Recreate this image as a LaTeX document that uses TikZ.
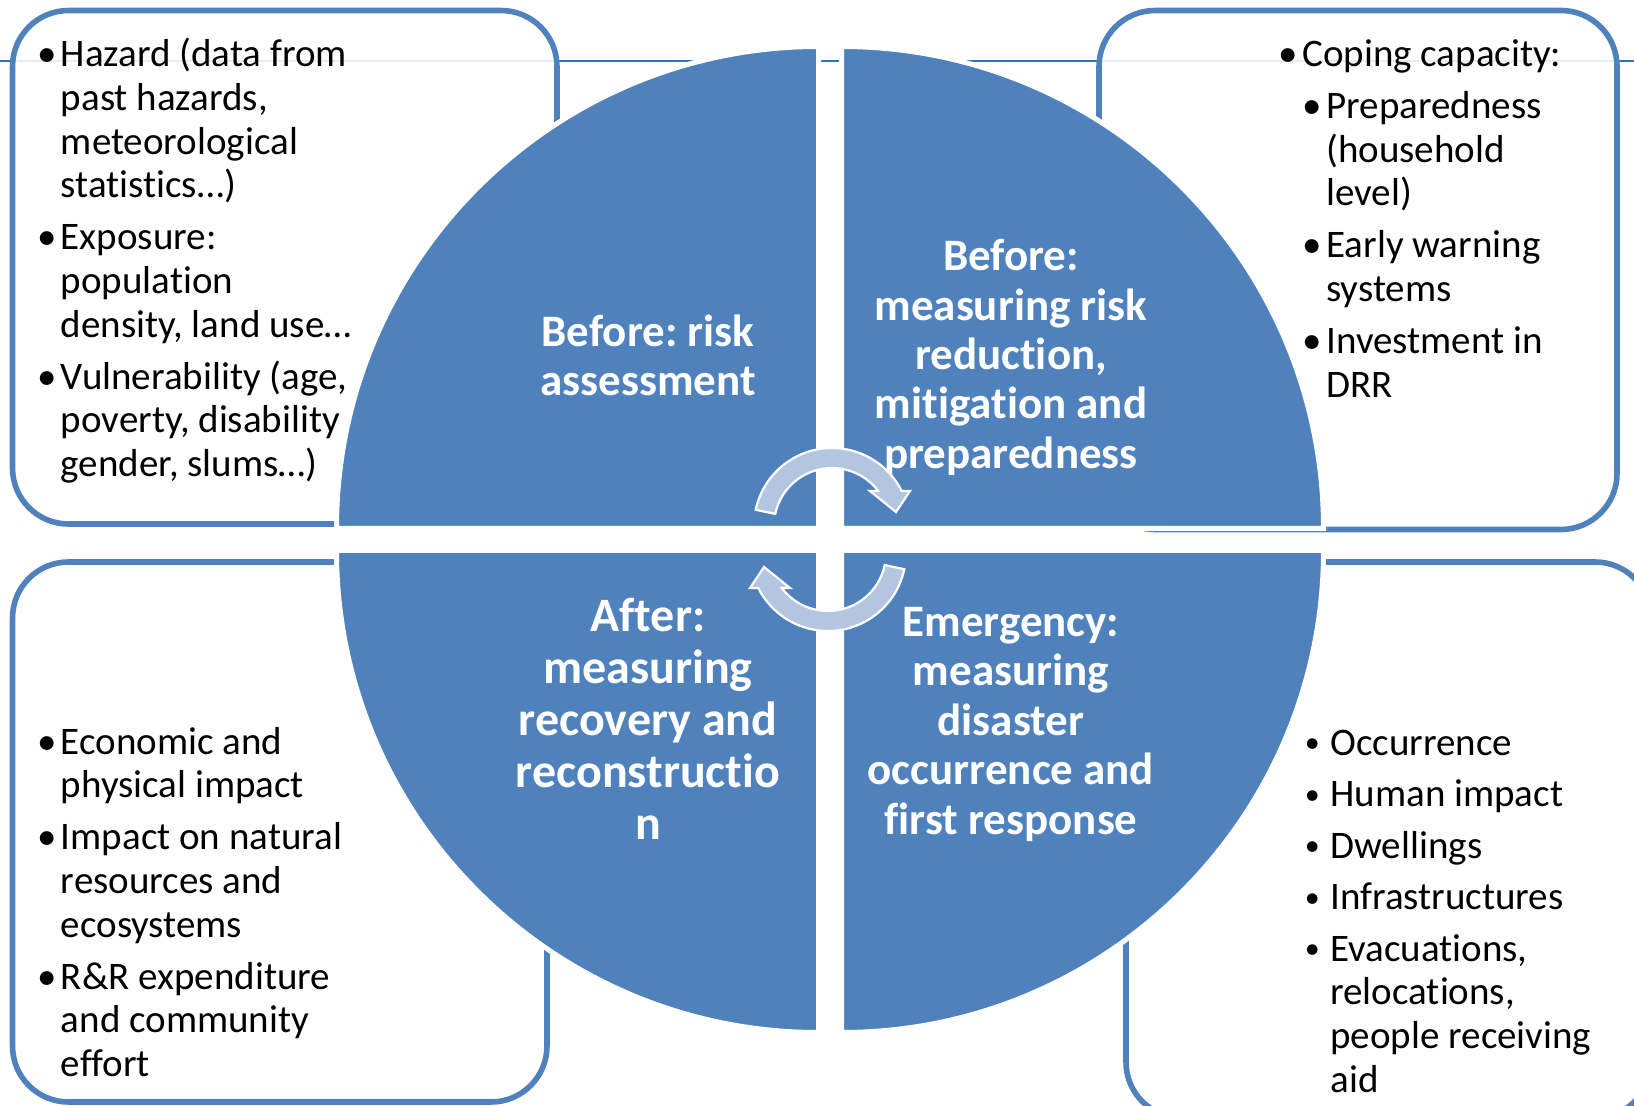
\documentclass[tikz,border=0pt]{standalone}
\usepackage{fontspec}
\setmainfont{Carlito}[Ligatures={NoCommon,NoRare,NoContextual}, Contextuals=NoAlternate]
\frenchspacing
\definecolor{quadblue}{HTML}{4F81BD}
\definecolor{rulerblue}{HTML}{2F74C0}
\definecolor{arrowfill}{HTML}{B4C5E1}
\newcommand{\listfont}{\fontsize{19.5}{21.9}\selectfont}
\newcommand{\quadfont}{\fontsize{22.5}{24.7}\selectfont\bfseries}
\newcommand{\quadfontbig}{\fontsize{24}{26}\selectfont\bfseries}
% plain "t" + "i" without the font's ligature
\newcommand{\ti}{t\kern0pt i}
% bullet hanging to the left of the line start
\newcommand{\itm}{\strut\llap{\makebox[8pt][c]{•}\hspace{3pt}}}
\newcommand{\itmw}{\strut\llap{\makebox[8pt][c]{\raisebox{1.3pt}{\fontsize{15}{15}\selectfont•}}\hspace{5pt}}}
\begin{document}
\begin{tikzpicture}[x=0.5pt,y=-0.5pt,
  infobox/.style={draw=quadblue, line width=2.8pt, fill=white, fill opacity=0.88,
                  draw opacity=1, rounded corners=28pt},
  quadrant/.style={fill=quadblue, draw=white, line width=2.5pt},
  listtext/.style={anchor=north west, align=left, inner sep=0pt, font=\listfont, text=black},
  quadtext/.style={anchor=center, align=center, inner sep=0pt, text=white, font=\quadfont},
  cyclearrow/.style={fill=arrowfill, draw=white, line width=1.1pt, line join=miter}
]
\useasboundingbox (0,0) rectangle (1634,1106);
\clip (0,0) rectangle (1634,1106);

% thin rule across the top
\draw[rulerblue, line width=1pt] (0,61) -- (1634,61);

% rounded boxes around the four lists
\path[infobox] (12.5,10.5) rectangle (557,524);
\path[infobox] (1099,10.5) rectangle (1617,529.5);
\path[infobox] (12.5,562) rectangle (547,1102);
\path[infobox] (1126,562) rectangle (1651,1118);

% list texts
\node[listtext] (risklist) at (60.5,35.5) {%
\itm Hazard (data from\\ \strut past hazards,\\ \strut meteorological\\ \strut sta\ti s\ti cs…)\\[4pt]
\itm Exposure:\\ \strut popula\ti on\\ \strut density, land use…\\[4pt]
\itm Vulnerability (age,\\ \strut poverty, disability\\ \strut gender, slums…)};

\node[listtext] (copinglist) at (1302,35.5) {%
\itm Coping capacity:\\[4pt]
\hspace{12pt}\itm Preparedness\\ \hspace{12pt}\strut(household\\ \hspace{12pt}\strut level)\\[4pt]
\hspace{12pt}\itm Early warning\\ \hspace{12pt}\strut systems\\[4pt]
\hspace{12pt}\itm Investment in\\ \hspace{12pt}\strut DRR};

\node[listtext] (impactlist) at (60.5,723) {%
\itm Economic and\\ \strut physical impact\\[4pt]
\itm Impact on natural\\ \strut resources and\\ \strut ecosystems\\[4pt]
\itm R\&R expenditure\\ \strut and community\\ \strut effort};

\node[listtext] (emergencylist) at (1330,724.5) {%
\itmw Occurrence\\[3.8pt]
\itmw Human impact\\[3.8pt]
\itmw Dwellings\\[3.8pt]
\itmw Infrastructures\\[3.8pt]
\itmw Evacua\ti ons,\\ \strut reloca\ti ons,\\ \strut people receiving\\ \strut aid};

% four quarter discs
\path[quadrant] (818.5,528.5) -- (336.5,528.5) arc[start angle=180, end angle=270, radius=482] -- cycle;
\path[quadrant] (841.5,528.5) -- (841.5,46.5) arc[start angle=270, end angle=360, radius=482] -- cycle;
\path[quadrant] (841.5,550.5) -- (1323.5,550.5) arc[start angle=0, end angle=90, radius=482] -- cycle;
\path[quadrant] (818.5,550.5) -- (818.5,1032.5) arc[start angle=90, end angle=180, radius=482] -- cycle;

% phase titles
\node[quadtext] (before) at (648,361) {\strut Before: risk\\ \strut assessment};
\node[quadtext] (mitigation) at (1011,359.6) {\strut Before:\\ \strut measuring risk\\ \strut reduc\ti on,\\ \strut mi\ti ga\ti on and\\ \strut preparedness};
\node[quadtext] (emergency) at (1011,725.5) {\strut Emergency:\\ \strut measuring\\ \strut disaster\\ \strut occurrence and\\ \strut first response};
\node[quadtext, font=\quadfontbig] (after) at (648,725.5) {\strut After:\\ \strut measuring\\ \strut recovery and\\ \strut reconstruc\ti o\\ \strut n};

% circular arrows in the middle
\begin{scope}[shift={(832,526)}]
\path[cyclearrow] (192:78) arc[start angle=192, end angle=333.3, radius=78]
  -- (78,-35) -- (64,-14) -- (38,-35) -- (322.9:58)
  arc[start angle=322.9, end angle=192, radius=58] -- cycle;
\end{scope}
\begin{scope}[shift={(828,553)}, rotate=180]
\path[cyclearrow] (192:78) arc[start angle=192, end angle=333.3, radius=78]
  -- (78,-35) -- (64,-14) -- (38,-35) -- (322.9:58)
  arc[start angle=322.9, end angle=192, radius=58] -- cycle;
\end{scope}
\end{tikzpicture}
\end{document}
